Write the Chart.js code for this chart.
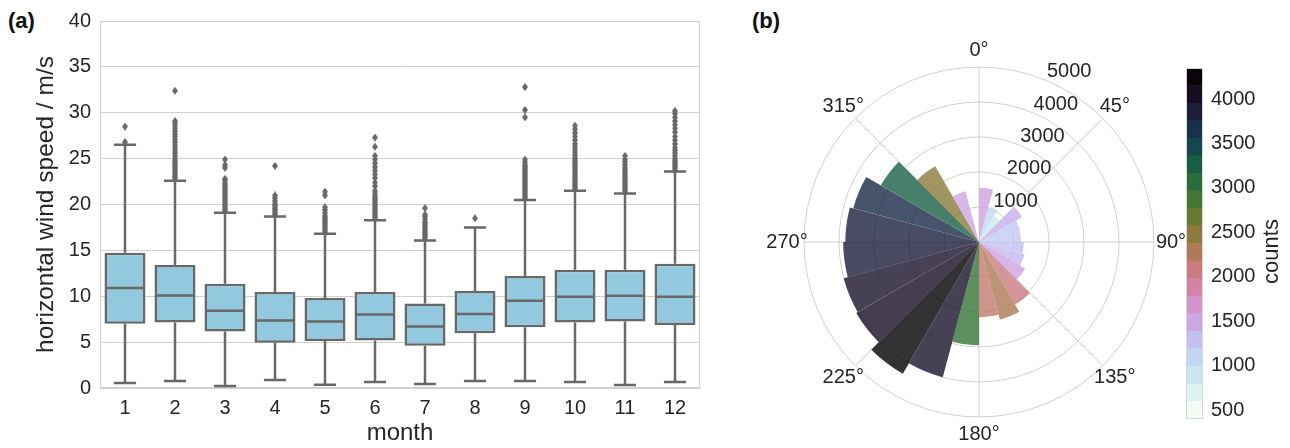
<!DOCTYPE html>
<html>
<head>
<meta charset="utf-8">
<script src="https://cdn.jsdelivr.net/npm/chart.js@4.4.1/dist/chart.umd.min.js"></script>
<style>
  html, body { margin: 0; padding: 0; background: #fff; width: 1290px; height: 448px; overflow: hidden;
    font-family: "Liberation Sans", Arial, sans-serif; }
  .panel { position: absolute; top: 0; }
  .tag { position: absolute; font-weight: bold; font-size: 22px; line-height: 22px; color: #111; }
</style>
</head>
<body>
<div class="tag" style="left:8px; top:10px">(a)</div>
<div class="tag" style="left:752px; top:10px">(b)</div>
<div class="panel" style="left:0"><canvas id="box" width="720" height="448"></canvas></div>
<div class="panel" style="left:760px"><canvas id="rose" width="440" height="448"></canvas></div>
<div class="panel" style="left:1180px"><canvas id="cbar" width="110" height="448"></canvas></div>
<script>
// ---------- panel (a): monthly horizontal wind speed ----------
const months = ['1', '2', '3', '4', '5', '6', '7', '8', '9', '10', '11', '12'];
const speedTicks = [0, 5, 10, 15, 20, 25, 30, 35, 40];
const whiskerLow = [0.54, 0.76, 0.22, 0.86, 0.36, 0.65, 0.43, 0.76, 0.76, 0.65, 0.32, 0.65];
const quartile1 = [6.99, 7.14, 6.16, 4.94, 5.11, 5.19, 4.61, 5.98, 6.63, 7.14, 7.24, 6.88];
const medians = [10.89, 10.09, 8.43, 7.35, 7.24, 8.0, 6.7, 8.07, 9.5, 9.95, 10.05, 9.95];
const quartile3 = [14.74, 13.4, 11.35, 10.45, 9.8, 10.45, 9.22, 10.56, 12.2, 12.9, 12.9, 13.55];
const whiskerHigh = [26.5, 22.6, 19.1, 18.7, 16.8, 18.27, 16.07, 17.5, 20.5, 21.5, 21.2, 23.6];
const fliers = [
  [26.8, 28.5],
  [22.8, 23.0, 23.2, 23.4, 23.6, 23.8, 24.0, 24.2, 24.4, 24.6, 24.8, 25.0, 25.3, 25.6, 25.9, 26.2, 26.5, 26.8, 27.1, 27.4, 27.7, 28.0, 28.3, 28.6, 28.9, 29.1, 32.4],
  [19.3, 19.5, 19.7, 19.9, 20.1, 20.3, 20.5, 20.7, 20.9, 21.1, 21.3, 21.5, 21.7, 21.9, 22.1, 22.3, 22.6, 22.8, 24.0, 24.3, 24.9],
  [18.9, 19.1, 19.3, 19.5, 19.7, 19.9, 20.1, 20.4, 20.7, 21.0, 24.2],
  [17.0, 17.2, 17.4, 17.6, 17.8, 18.0, 18.2, 18.4, 18.6, 18.8, 19.1, 19.4, 19.7, 21.0, 21.4],
  [18.5, 18.7, 18.9, 19.1, 19.3, 19.5, 19.7, 19.9, 20.1, 20.3, 20.5, 20.7, 20.9, 21.2, 21.5, 22.0, 22.4, 22.9, 23.3, 23.7, 24.1, 24.5, 24.9, 25.3, 26.3, 27.3],
  [16.3, 16.5, 16.7, 16.9, 17.1, 17.3, 17.5, 17.7, 17.9, 18.1, 18.4, 18.7, 18.9, 19.6],
  [18.5],
  [20.7, 20.9, 21.1, 21.3, 21.5, 21.7, 21.9, 22.1, 22.3, 22.5, 22.7, 22.9, 23.1, 23.3, 23.5, 23.7, 23.9, 24.1, 24.3, 24.6, 24.9, 29.5, 30.3, 32.8],
  [21.7, 21.9, 22.1, 22.3, 22.5, 22.7, 22.9, 23.1, 23.3, 23.5, 23.7, 23.9, 24.1, 24.3, 24.5, 24.7, 24.9, 25.1, 25.4, 25.7, 26.0, 26.3, 26.6, 27.0, 27.4, 27.8, 28.2, 28.6],
  [21.4, 21.6, 21.8, 22.0, 22.2, 22.4, 22.6, 22.8, 23.0, 23.2, 23.4, 23.6, 23.8, 24.0, 24.3, 24.6, 24.9, 25.3],
  [23.8, 24.0, 24.2, 24.4, 24.6, 24.8, 25.0, 25.3, 25.6, 25.9, 26.2, 26.6, 27.0, 27.4, 27.9, 28.3, 28.7, 29.1, 29.5, 29.9, 30.2]
];

// ---------- panel (b): wind direction histogram (15 degree bins) ----------
const dirBins = ['0°', '15°', '30°', '45°', '60°', '75°', '90°', '105°', '120°', '135°', '150°', '165°',
                 '180°', '195°', '210°', '225°', '240°', '255°', '270°', '285°', '300°', '315°', '330°', '345°'];
const dirCounts = [1550, 1050, 850, 1420, 1220, 1200, 1280, 1350, 1520, 2060, 2300, 2150,
                   2950, 4000, 4350, 4050, 4000, 3880, 3820, 3720, 3240, 2500, 1500, 400];
const compassLabels = ['0°', '45°', '90°', '135°', '180°', '225°', '270°', '315°'];
const ringTicks = [1000, 2000, 3000, 4000, 5000];
const countTicks = [500, 1000, 1500, 2000, 2500, 3000, 3500, 4000];

const FONT = '"Liberation Sans", Arial, sans-serif';
const TEXT = '#262626';
const GRID = '#d0d0d0';
const BOX_FILL = '#93c9de';
const BOX_LINE = '#686868';
Chart.defaults.font.family = FONT;
Chart.defaults.color = TEXT;

// matplotlib "cubehelix" (gamma 1, s 0.5, r -1.5, hue 1)
function cubehelix(x) {
  const a = x * (1 - x) / 2;
  const phi = 2 * Math.PI * (0.5 / 3 - 1.5 * x);
  const c = Math.cos(phi), s = Math.sin(phi);
  const ch = [x + a * (-0.14861 * c + 1.78277 * s),
              x + a * (-0.29227 * c - 0.90649 * s),
              x + a * (1.97294 * c)];
  return ch.map(v => Math.round(255 * Math.min(1, Math.max(0, v))));
}
const vMin = Math.min(...dirCounts), vMax = Math.max(...dirCounts);
const BANDS = 20;
// reversed map: low counts pale, high counts dark
function countColor(v, alpha) {
  const [r, g, b] = cubehelix(1 - (v - vMin) / (vMax - vMin));
  return `rgba(${r},${g},${b},${alpha})`;
}

// thin diamond used for the outlier markers
const diamond = document.createElement('canvas');
diamond.width = 6; diamond.height = 8;
(function () {
  const c = diamond.getContext('2d');
  c.fillStyle = BOX_LINE;
  c.beginPath(); c.moveTo(3, 0); c.lineTo(6, 4); c.lineTo(3, 8); c.lineTo(0, 4); c.closePath(); c.fill();
})();

const flierPoints = [];
fliers.forEach((vals, i) => vals.forEach(v => flierPoints.push({ x: months[i], y: v })));

// whiskers, caps and medians drawn on the category / value scales
const boxParts = {
  id: 'boxParts',
  afterDatasetsDraw(chart) {
    const { ctx } = chart;
    const y = chart.scales.y;
    const bars = chart.getDatasetMeta(0).data;
    ctx.save();
    ctx.strokeStyle = BOX_LINE;
    ctx.lineWidth = 2.5;
    bars.forEach((bar, i) => {
      const half = bar.width / 2;
      const cap = half * 0.54;
      const x = bar.x;
      ctx.beginPath();
      ctx.moveTo(x, y.getPixelForValue(quartile3[i]));
      ctx.lineTo(x, y.getPixelForValue(whiskerHigh[i]));
      ctx.moveTo(x, y.getPixelForValue(quartile1[i]));
      ctx.lineTo(x, y.getPixelForValue(whiskerLow[i]));
      ctx.moveTo(x - cap, y.getPixelForValue(whiskerHigh[i]));
      ctx.lineTo(x + cap, y.getPixelForValue(whiskerHigh[i]));
      ctx.moveTo(x - cap, y.getPixelForValue(whiskerLow[i]));
      ctx.lineTo(x + cap, y.getPixelForValue(whiskerLow[i]));
      ctx.moveTo(x - half + 1, y.getPixelForValue(medians[i]));
      ctx.lineTo(x + half - 1, y.getPixelForValue(medians[i]));
      ctx.stroke();
    });
    ctx.restore();
  }
};

const frame = {
  id: 'frame',
  beforeDatasetsDraw(chart) {
    const { ctx, chartArea: a } = chart;
    ctx.save();
    ctx.strokeStyle = GRID;
    ctx.lineWidth = 1;
    ctx.strokeRect(Math.round(a.left) + 0.5, Math.round(a.top) + 0.5,
                   Math.round(a.right - a.left) - 1, Math.round(a.bottom - a.top) - 1);
    ctx.restore();
  }
};

new Chart(document.getElementById('box'), {
  data: {
    labels: months,
    datasets: [
      {
        type: 'bar',
        data: months.map((m, i) => [quartile1[i], quartile3[i]]),
        backgroundColor: BOX_FILL,
        borderColor: BOX_LINE,
        borderWidth: 2.5,
        borderSkipped: false,
        barPercentage: 0.82,
        categoryPercentage: 1,
        order: 2
      },
      {
        type: 'line',
        data: flierPoints,
        showLine: false,
        pointStyle: diamond,
        order: 1
      }
    ]
  },
  options: {
    responsive: false,
    animation: false,
    events: [],
    layout: { padding: { left: 0, right: 20, top: 18, bottom: 0 } },
    plugins: { legend: { display: false }, tooltip: { enabled: false } },
    scales: {
      x: {
        type: 'category',
        offset: true,
        grid: { display: false, drawTicks: false },
        border: { display: true, color: GRID },
        ticks: { font: { size: 20 }, color: TEXT, padding: 8 },
        title: { display: true, text: 'month', font: { size: 24 }, color: TEXT, padding: 0 },
        afterFit(s) { s.height = 60; }
      },
      y: {
        min: 0, max: 40,
        afterBuildTicks(s) { s.ticks = speedTicks.map(v => ({ value: v })); },
        grid: { color: GRID, drawTicks: false },
        border: { display: true, color: GRID },
        ticks: { font: { size: 20 }, color: TEXT, padding: 9 },
        title: { display: true, text: 'horizontal wind speed / m/s', font: { size: 24.5 }, color: TEXT,
                 padding: { top: 32, bottom: 0 } },
        afterFit(s) { s.width = 100; }
      }
    }
  },
  plugins: [frame, boxParts]
});

// ---------- wind rose ----------
const roseText = {
  id: 'roseText',
  afterDatasetsDraw(chart) {
    const { ctx } = chart;
    const r = chart.scales.r;
    ctx.save();
    ctx.fillStyle = TEXT;
    ctx.font = '20px ' + FONT;
    ctx.textAlign = 'center';
    ctx.textBaseline = 'middle';
    compassLabels.forEach((t, k) => {
      const p = r.getPointPosition(k * 3, r.drawingArea + 17);
      ctx.fillText(t, p.x, p.y);
    });
    ctx.textAlign = 'left';
    ctx.textBaseline = 'alphabetic';
    ringTicks.forEach(v => {
      const p = r.getPointPositionForValue(1.5, v);
      ctx.fillText(String(v), p.x + 1, p.y - 3);
    });
    ctx.restore();
  }
};

new Chart(document.getElementById('rose'), {
  type: 'polarArea',
  data: {
    labels: dirBins,
    datasets: [{
      data: dirCounts,
      backgroundColor: dirCounts.map(v => countColor(v, 0.8)),
      borderWidth: 0
    }]
  },
  options: {
    responsive: false,
    animation: false,
    events: [],
    layout: { padding: { left: 44, right: 46, top: 67, bottom: 31 } },
    plugins: { legend: { display: false }, tooltip: { enabled: false } },
    scales: {
      r: {
        min: 0, max: 5000,
        startAngle: 0,
        afterBuildTicks(s) { s.ticks = [0].concat(ringTicks).map(v => ({ value: v })); },
        ticks: { display: false },
        grid: { circular: true, color: GRID, lineWidth: 1 },
        angleLines: { display: true, color: GRID, lineWidth: ctx => (ctx.index % 3 === 0 ? 1 : 0) },
        pointLabels: { display: false }
      }
    }
  },
  plugins: [roseText]
});

// ---------- colour bar ----------
const bandDatasets = [];
for (let k = 0; k < BANDS; k++) {
  const lo = vMin + (vMax - vMin) * k / BANDS;
  const hi = vMin + (vMax - vMin) * (k + 1) / BANDS;
  bandDatasets.push({
    data: [[lo, hi]],
    backgroundColor: countColor((lo + hi) / 2, 1),
    borderWidth: 0,
    barPercentage: 1,
    categoryPercentage: 1,
    grouped: false
  });
}

const cbarDecor = {
  id: 'cbarDecor',
  afterDatasetsDraw(chart) {
    const { ctx, chartArea: a } = chart;
    const y = chart.scales.y;
    ctx.save();
    ctx.strokeStyle = '#d8d8d8';
    ctx.lineWidth = 1;
    ctx.strokeRect(Math.round(a.left) + 0.5, Math.round(a.top) + 0.5,
                   Math.round(a.right - a.left) - 1, Math.round(a.bottom - a.top) - 1);
    ctx.translate(92, (y.top + y.bottom) / 2 + 8);
    ctx.rotate(-Math.PI / 2);
    ctx.fillStyle = TEXT;
    ctx.font = '22px ' + FONT;
    ctx.textAlign = 'center';
    ctx.textBaseline = 'middle';
    ctx.fillText('counts', 0, 0);
    ctx.restore();
  }
};

new Chart(document.getElementById('cbar'), {
  type: 'bar',
  data: { labels: [''], datasets: bandDatasets },
  options: {
    responsive: false,
    animation: false,
    events: [],
    layout: { padding: { left: 6, right: 0, top: 68, bottom: 29 } },
    plugins: { legend: { display: false }, tooltip: { enabled: false } },
    scales: {
      x: { display: false },
      y: {
        position: 'right',
        min: vMin, max: vMax,
        afterBuildTicks(s) { s.ticks = countTicks.map(v => ({ value: v })); },
        grid: { display: false, drawTicks: false },
        border: { display: false },
        ticks: { font: { size: 20 }, color: TEXT, padding: 8, callback: v => String(v) },
        afterFit(s) { s.width = 87; }
      }
    }
  },
  plugins: [cbarDecor]
});
</script>
</body>
</html>
